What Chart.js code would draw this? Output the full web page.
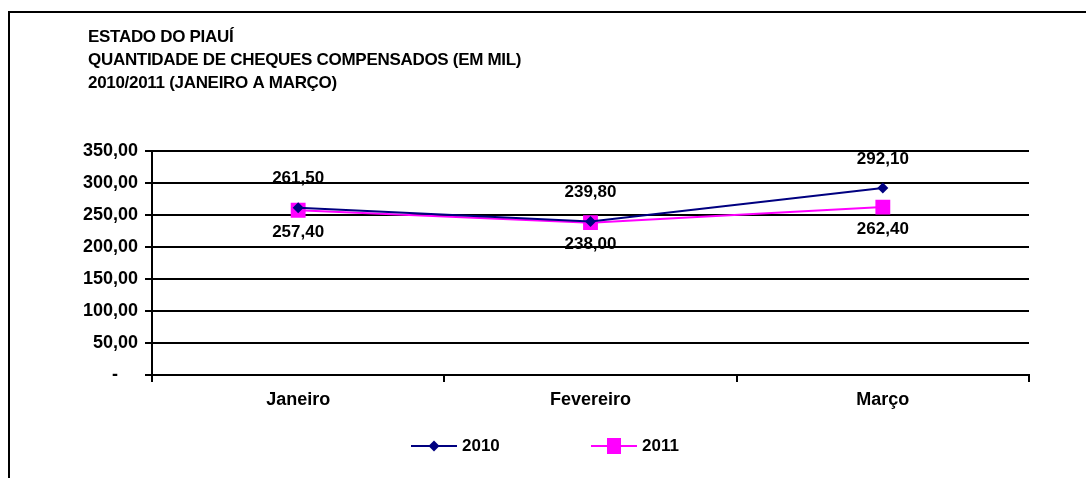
<!DOCTYPE html>
<html>
<head>
<meta charset="utf-8">
<script src="https://cdn.jsdelivr.net/npm/chart.js@4.4.1/dist/chart.umd.min.js"></script>
<style>
  html, body { margin: 0; padding: 0; background: #fff; }
  #chart { display: block; }
</style>
</head>
<body>
<canvas id="chart" width="1086" height="478"></canvas>
<script>
const titleLines = [
    "ESTADO DO PIAUÍ",
    "QUANTIDADE DE CHEQUES COMPENSADOS (EM MIL)",
    "2010/2011 (JANEIRO A MARÇO)"
];
const months = ["Janeiro", "Fevereiro", "Março"];
const values2010 = [261.5, 239.8, 292.1];
const values2011 = [257.4, 238.0, 262.4];
const seriesNames = ["2010", "2011"];
const yTicks = [0, 50, 100, 150, 200, 250, 300, 350];

const FONT = "'Liberation Sans', Arial, sans-serif";

function fmt(v) {
    return v.toFixed(2).replace(".", ",");
}

// moldura, titulo, rotulos e legenda
const extras = {
    id: "extras",
    afterDraw(chart) {
        const ctx = chart.ctx;
        ctx.save();

        ctx.strokeStyle = "#000";
        ctx.lineWidth = 2;
        ctx.beginPath();
        ctx.moveTo(9, 478);
        ctx.lineTo(9, 12);
        ctx.lineTo(1086, 12);
        ctx.stroke();

        ctx.fillStyle = "#000";
        ctx.font = "bold 17px " + FONT;
        ctx.textBaseline = "middle";
        ctx.textAlign = "left";
        ctx.letterSpacing = "-0.3px";
        titleLines.forEach((t, i) => ctx.fillText(t, 88, 37 + i * 23));
        ctx.letterSpacing = "0px";

        // rotulos de dados
        ctx.textAlign = "center";
        ctx.font = "bold 17px " + FONT;
        const offs = [-29, 22];
        chart.data.datasets.forEach((ds, di) => {
            const meta = chart.getDatasetMeta(di);
            meta.data.forEach((pt, j) => {
                ctx.fillText(fmt(ds.data[j]), pt.x, pt.y + offs[di]);
            });
        });

        // legenda
        const items = [
            { x: 411, color: "#000080", style: "diamond" },
            { x: 591, color: "#FF00FF", style: "square" }
        ];
        const ly = 446;
        items.forEach((it, i) => {
            ctx.strokeStyle = it.color;
            ctx.fillStyle = it.color;
            ctx.lineWidth = 2;
            ctx.beginPath();
            ctx.moveTo(it.x, ly);
            ctx.lineTo(it.x + 46, ly);
            ctx.stroke();
            const cx = it.x + 23;
            if (it.style === "diamond") {
                ctx.beginPath();
                ctx.moveTo(cx, ly - 5.5);
                ctx.lineTo(cx + 5.5, ly);
                ctx.lineTo(cx, ly + 5.5);
                ctx.lineTo(cx - 5.5, ly);
                ctx.closePath();
                ctx.fill();
            } else {
                ctx.fillRect(cx - 7, ly - 8, 14, 16);
            }
            ctx.fillStyle = "#000";
            ctx.textAlign = "left";
            ctx.fillText(seriesNames[i], it.x + 51, ly);
        });

        ctx.restore();
    }
};

const ctx = document.getElementById("chart").getContext("2d");

new Chart(ctx, {
    type: "line",
    data: {
        labels: months,
        datasets: [
            {
                label: seriesNames[0],
                data: values2010,
                borderColor: "#000080",
                backgroundColor: "#000080",
                borderWidth: 2,
                pointStyle: "rectRot",
                pointRadius: 5.5,
                pointBorderWidth: 0,
                tension: 0
            },
            {
                label: seriesNames[1],
                data: values2011,
                borderColor: "#FF00FF",
                backgroundColor: "#FF00FF",
                borderWidth: 2,
                pointStyle: "rect",
                pointRadius: 10.5,
                pointBorderWidth: 0,
                tension: 0
            }
        ]
    },
    options: {
        responsive: false,
        animation: false,
        layout: { padding: { left: 0, right: 57, top: 151, bottom: 63 } },
        plugins: {
            legend: { display: false },
            tooltip: { enabled: false }
        },
        scales: {
            x: {
                offset: true,
                afterFit: (s) => { s.height = 40; },
                border: { color: "#000", width: 2 },
                grid: {
                    offset: true,
                    drawOnChartArea: false,
                    drawTicks: true,
                    tickLength: 7,
                    color: "#000",
                    lineWidth: 2
                },
                ticks: {
                    color: "#000",
                    padding: 7,
                    font: { family: FONT, size: 18, weight: "bold" }
                }
            },
            y: {
                min: 0,
                max: 350,
                afterFit: (s) => { s.width = 152; },
                afterBuildTicks: (s) => { s.ticks = yTicks.map(v => ({ value: v })); },
                border: { color: "#000", width: 2 },
                grid: {
                    color: "#000",
                    lineWidth: 2,
                    tickLength: 7
                },
                ticks: {
                    color: "#000",
                    padding: 7,
                    font: { family: FONT, size: 18, weight: "bold" },
                    callback: (v) => v === 0 ? "-    " : fmt(v)
                }
            }
        }
    },
    plugins: [extras]
});
</script>
</body>
</html>
